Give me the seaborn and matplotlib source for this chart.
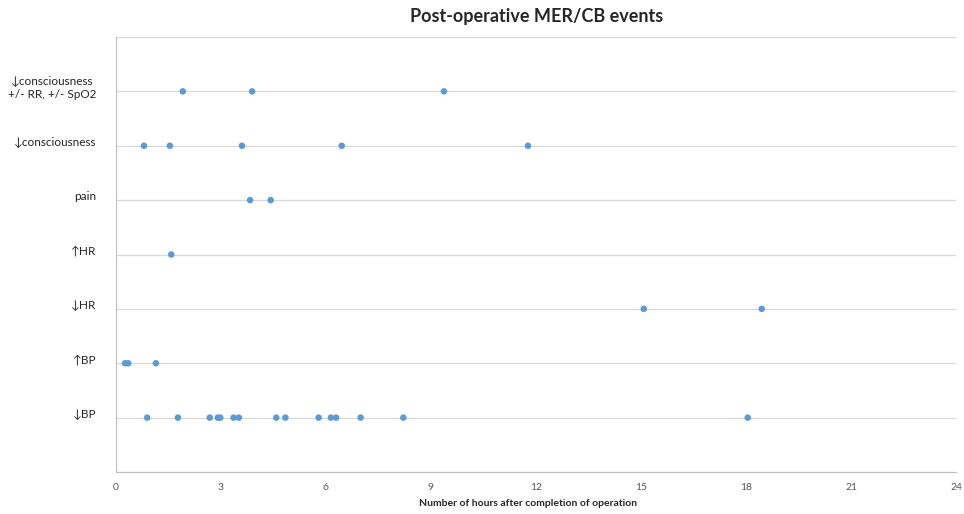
import numpy as np
import pandas as pd
import seaborn as sns
import matplotlib.pyplot as plt

# event categories, bottom to top
categories = [
    "\u2193BP",
    "\u2191BP",
    "\u2193HR",
    "\u2191HR",
    "pain",
    "\u2193consciousness",
    "\u2193consciousness\n+/- RR, +/- SpO2",
]

# hours after completion of operation, per category
bp_down = [0.89, 1.77, 2.68, 2.91, 2.98, 3.36, 3.51, 4.58, 4.84, 5.79,
           6.14, 6.29, 6.99, 8.21, 18.05]
bp_up = [0.26, 0.35, 1.14]
hr_down = [15.08, 18.45]
hr_up = [1.58]
pain = [3.83, 4.42]
consc_down = [0.80, 1.54, 3.60, 6.45, 11.77]
consc_rr_spo2 = [1.91, 3.89, 9.37]

series = [bp_down, bp_up, hr_down, hr_up, pain, consc_down, consc_rr_spo2]

rows = []
for i, hours in enumerate(series):
    for h in hours:
        rows.append({"hours": h, "level": i + 1})
df = pd.DataFrame(rows)

sns.set_style("white")
plt.rcParams["font.family"] = ["Lato", "DejaVu Sans"]

fig = plt.figure(figsize=(9.64, 5.14), dpi=100)
ax = fig.add_axes([0.1203, 0.0817, 0.8714, 0.8463])

sns.scatterplot(data=df, x="hours", y="level", ax=ax, color="#5b9bd5",
                s=22, edgecolor="none", zorder=3)

ax.set_xlim(0, 24)
ax.set_ylim(0, 8)
ax.set_xticks(np.arange(0, 25, 3))
ax.set_yticks(range(0, 9), minor=False)
ax.set_yticklabels([])
ax.grid(axis="y", color="#d9d9d9", linewidth=0.9)
ax.grid(axis="x", visible=False)

for name in ["top", "right"]:
    ax.spines[name].set_visible(False)
ax.spines["left"].set_color("#bfbfbf")
ax.spines["bottom"].set_color("#bfbfbf")
ax.tick_params(axis="x", length=0, labelsize=7.5, colors="#595959", pad=8)
ax.tick_params(axis="y", length=0)

for i, label in enumerate(categories):
    ax.text(-0.55, i + 1 + 0.06, label, ha="right", va="center",
            multialignment="center", fontsize=8.5, color="#262626",
            family=["Lato", "DejaVu Sans"])

ax.set_xlabel("")
ax.set_ylabel("")
fig.text(0.548, 0.012, "Number of hours after completion of operation",
         ha="center", va="bottom", fontsize=7.5, fontweight="bold")
fig.suptitle("Post-operative MER/CB events", x=0.557, y=0.985, fontsize=13,
             fontweight="bold")

fig.savefig("out.png", dpi=100)
